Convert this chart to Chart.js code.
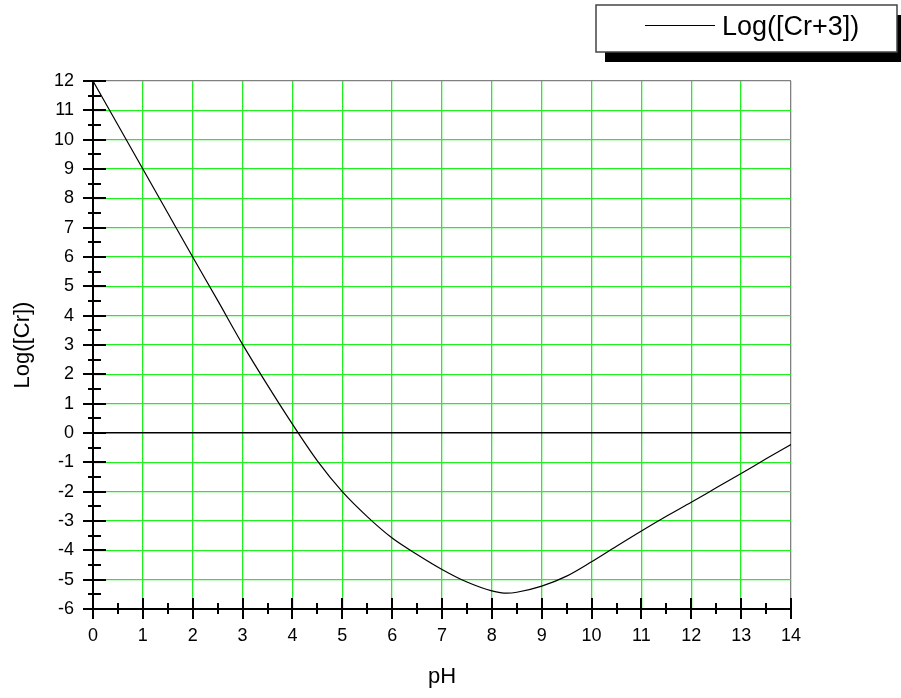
<!DOCTYPE html>
<html>
<head>
<meta charset="utf-8">
<script src="https://cdn.jsdelivr.net/npm/chart.js@4/dist/chart.umd.min.js"></script>
<style>
  body { margin: 0; background: #fff; }
  #wrap { width: 901px; height: 698px; }
</style>
</head>
<body>
<div id="wrap"><canvas id="crChart" width="901" height="698"></canvas></div>
<script>
// Cr(III) solubility vs pH
const seriesLabel = 'Log([Cr+3])';
const phValues = [0, 0.5, 1, 1.5, 2, 2.5, 3, 3.5, 4, 4.5, 5, 5.5, 6, 6.5, 7, 7.5,
                  8, 8.3, 8.5, 9, 9.5, 10, 10.5, 11, 11.5, 12, 12.5, 13, 13.5, 14];
const logCr = [12, 10.5, 9, 7.5, 6, 4.52, 3.02, 1.63, 0.3, -0.95, -2.0, -2.85, -3.58, -4.14, -4.65, -5.08,
               -5.38, -5.46, -5.43, -5.22, -4.88, -4.39, -3.86, -3.34, -2.84, -2.36, -1.87, -1.38, -0.88, -0.39];
const xRange = [0, 14];
const yRange = [-6, 12];

const points = phValues.map((p, i) => ({ x: p, y: logCr[i] }));
const FONT = 'Arial, "Liberation Sans", sans-serif';
const GREEN = '#22ee22';

// major ticks cross the axis line, minor ticks sit at the half steps
const crossTicks = {
  id: 'crossTicks',
  afterDraw(chart) {
    const ctx = chart.ctx;
    const xs = chart.scales.x, ys = chart.scales.y;
    const ax = xs.top, ay = ys.right;
    ctx.save();
    ctx.strokeStyle = '#000';
    ctx.lineWidth = 2;
    ctx.beginPath();
    for (let v = xRange[0]; v <= xRange[1]; v += 0.5) {
      const px = Math.round(xs.getPixelForValue(v));
      const major = v % 1 === 0;
      ctx.moveTo(px, ax - (major ? 11 : 6));
      ctx.lineTo(px, ax + (major ? 10 : 5));
    }
    for (let v = yRange[0]; v <= yRange[1]; v += 0.5) {
      const py = Math.round(ys.getPixelForValue(v));
      const major = v % 1 === 0;
      ctx.moveTo(ay - (major ? 10 : 5), py);
      ctx.lineTo(ay + (major ? 13 : 8), py);
    }
    ctx.stroke();
    ctx.restore();
  }
};

// boxed legend with a drop shadow in the top right corner
const shadowLegend = {
  id: 'shadowLegend',
  afterDraw(chart) {
    const ctx = chart.ctx;
    const ds = chart.data.datasets[0];
    const bx = 596, by = 5, bw = 301, bh = 47;
    ctx.save();
    ctx.fillStyle = '#000';
    ctx.fillRect(bx + 9, by + 10, bw, bh);
    ctx.fillStyle = '#fff';
    ctx.fillRect(bx, by, bw, bh);
    ctx.strokeStyle = '#444';
    ctx.lineWidth = 1.5;
    ctx.strokeRect(bx, by, bw, bh);
    ctx.strokeStyle = ds.borderColor;
    ctx.lineWidth = 1;
    ctx.beginPath();
    ctx.moveTo(645, 25.5);
    ctx.lineTo(715, 25.5);
    ctx.stroke();
    ctx.fillStyle = '#000';
    ctx.font = '27px ' + FONT;
    ctx.textBaseline = 'middle';
    ctx.textAlign = 'left';
    ctx.fillText(ds.label, 722, 28);
    ctx.restore();
  }
};

new Chart(document.getElementById('crChart'), {
  type: 'scatter',
  data: {
    datasets: [{
      label: seriesLabel,
      data: points,
      showLine: true,
      borderColor: '#000',
      borderWidth: 1.2,
      pointRadius: 0,
      cubicInterpolationMode: 'monotone',
      fill: false
    }]
  },
  options: {
    responsive: false,
    animation: false,
    layout: { padding: { top: 81, right: 110, left: 0, bottom: 0 } },
    plugins: {
      legend: { display: false },
      tooltip: { enabled: false }
    },
    scales: {
      x: {
        type: 'linear',
        min: xRange[0],
        max: xRange[1],
        afterFit(scale) { scale.height = 89; },
        ticks: { stepSize: 1, padding: 16, color: '#000', font: { family: FONT, size: 18 } },
        grid: {
          drawTicks: false,
          color: c => c.tick.value === xRange[1] ? '#808080' : GREEN,
          lineWidth: 1.3
        },
        border: { color: '#000', width: 2 },
        title: {
          display: true,
          text: 'pH',
          color: '#000',
          font: { family: FONT, size: 22 },
          padding: { top: 0, bottom: 8 }
        }
      },
      y: {
        type: 'linear',
        min: yRange[0],
        max: yRange[1],
        afterFit(scale) { scale.width = 93; },
        ticks: { stepSize: 1, padding: 19, color: '#000', font: { family: FONT, size: 18 } },
        grid: {
          drawTicks: false,
          color: c => c.tick.value === 0 ? '#000' : (c.tick.value === yRange[1] ? '#808080' : GREEN),
          lineWidth: c => c.tick.value === 0 ? 1.6 : 1.3
        },
        border: { color: '#000', width: 2 },
        title: {
          display: true,
          text: 'Log([Cr])',
          color: '#000',
          font: { family: FONT, size: 22 },
          padding: { top: 10, bottom: 0 }
        }
      }
    }
  },
  plugins: [crossTicks, shadowLegend]
});
</script>
</body>
</html>
